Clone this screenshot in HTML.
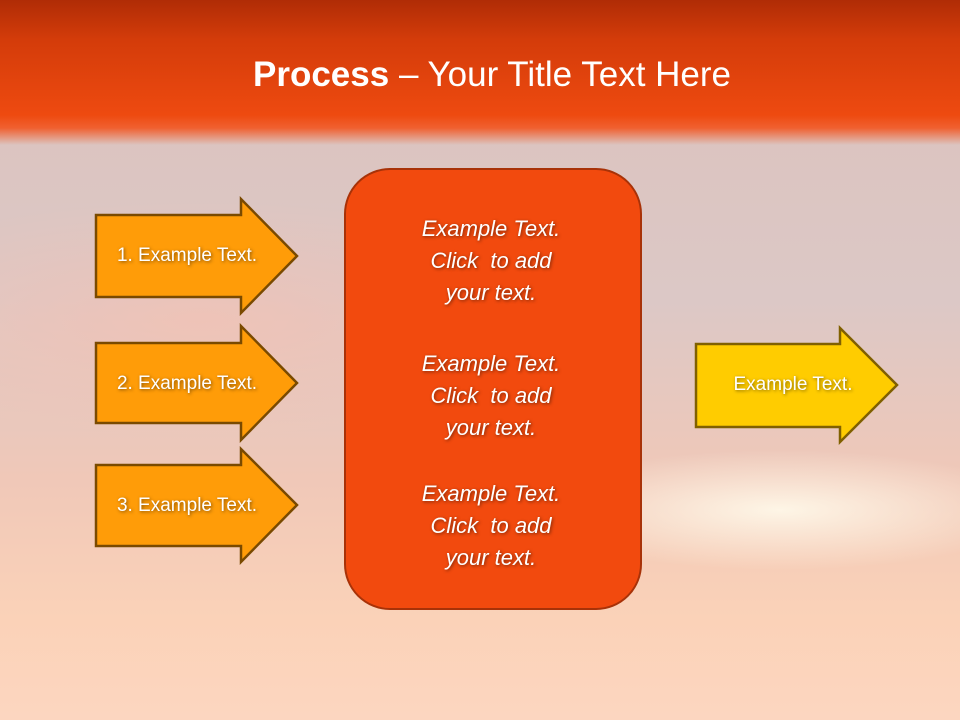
<!DOCTYPE html>
<html><head><style>
body{margin:0;width:960px;height:720px;overflow:hidden;font-family:"Liberation Sans",sans-serif}
#bg{position:absolute;left:0;top:0;width:960px;height:720px;
background:
radial-gradient(ellipse 260px 60px at 780px 510px,rgba(255,250,235,0.9),rgba(255,240,220,0) 100%),
radial-gradient(ellipse 400px 120px at 200px 320px,rgba(255,190,170,0.5),rgba(255,200,180,0) 100%),
linear-gradient(180deg,#dcc4c0 130px,#dcc8c6 300px,#f0c8b8 480px,#fbd2b8 620px,#fcd6c0 720px);}
#top{position:absolute;left:0;top:0;width:960px;height:145px;
background:linear-gradient(180deg,#b02c06 0,#d43c0a 40px,#ee4a10 115px,#f06030 128px,rgba(240,120,80,0) 145px);}
h1{position:absolute;top:55px;left:0;width:984px;text-align:center;margin:0;font-size:35px;font-weight:normal;color:#fff}
.t{position:absolute;color:#fff;text-shadow:1px 1px 3px rgba(0,0,0,0.5);font-size:19px;text-align:center}
.box{position:absolute;left:344px;top:168px;width:294px;height:438px;border:2px solid #a83208;border-radius:46px;background:#f24a0e}
.it{font-style:italic;font-size:22px;line-height:32px;width:294px;left:344px}
</style></head><body>
<div id="bg"></div><div id="top"></div>
<h1><b>Process</b> – Your Title Text Here</h1>
<svg width="960" height="720" style="position:absolute;left:0;top:0">
<g stroke="#7a4a00" stroke-width="2.5" fill="#ff9c08">
<polygon points="96,215 241,215 241,199 297,256 241,313 241,297 96,297"/>
<polygon points="96,343 241,343 241,326 297,383 241,440 241,423 96,423"/>
<polygon points="96,465 241,465 241,449 297,505 241,562 241,546 96,546"/>
</g>
<polygon points="696,344 840,344 840,328 897,385 840,442 840,427 696,427" stroke="#806000" stroke-width="2.5" fill="#ffcc00"/>
</svg>
<div class="t" style="left:96px;top:245px;width:182px">1. Example Text.</div>
<div class="t" style="left:96px;top:373px;width:182px">2. Example Text.</div>
<div class="t" style="left:96px;top:495px;width:182px">3. Example Text.</div>
<div class="t" style="left:696px;top:374px;width:194px">Example Text.</div>
<div class="box"></div>
<div class="t it" style="top:213px">Example Text.<br>Click &nbsp;to add<br>your text.</div>
<div class="t it" style="top:348px">Example Text.<br>Click &nbsp;to add<br>your text.</div>
<div class="t it" style="top:478px">Example Text.<br>Click &nbsp;to add<br>your text.</div>
</body></html>
